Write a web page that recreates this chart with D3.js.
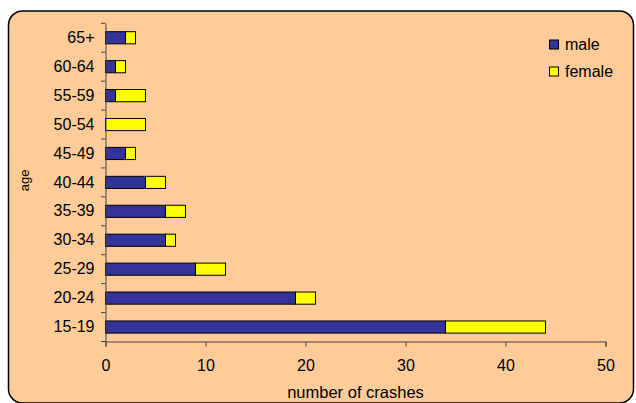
<!DOCTYPE html>
<html>
<head>
<meta charset="utf-8">
<script src="https://cdn.jsdelivr.net/npm/d3@7"></script>
<style>
  html, body { margin: 0; padding: 0; background: #ffffff; }
  svg { display: block; font-family: "Liberation Sans", Arial, sans-serif; }
</style>
</head>
<body>
<svg id="chart" width="636" height="403"></svg>
<script>
// Age groups, listed from bottom to top of the chart
const ageGroups = ["15-19", "20-24", "25-29", "30-34", "35-39", "40-44", "45-49", "50-54", "55-59", "60-64", "65+"];
const maleCrashes = [34, 19, 9, 6, 6, 4, 2, 0, 1, 1, 2];
const femaleCrashes = [10, 2, 3, 1, 2, 2, 1, 4, 3, 1, 1];
const seriesNames = ["male", "female"];
const seriesColors = ["#333399", "#FFFF00"];
const xTicks = [0, 10, 20, 30, 40, 50];

const svg = d3.select("#chart");

// Chart frame
svg.append("rect")
  .attr("x", 8.5).attr("y", 11)
  .attr("width", 625).attr("height", 392)
  .attr("rx", 14).attr("ry", 14)
  .attr("fill", "#FFCC99")
  .attr("stroke", "#000").attr("stroke-width", 1.5);

const plot = { left: 105.5, right: 605.5, top: 23.3, bottom: 341.5 };

const x = d3.scaleLinear().domain([0, 50]).range([plot.left, plot.right]);
const y = d3.scaleBand().domain(ageGroups).range([plot.bottom, plot.top]).paddingInner(0).paddingOuter(0);

// Stack male then female
const rows = ageGroups.map((g, i) => ({ group: g, male: maleCrashes[i], female: femaleCrashes[i] }));
const stacked = d3.stack().keys(seriesNames)(rows);

const barH = y.bandwidth() * 0.42;
const g = svg.append("g");
stacked.forEach((layer, si) => {
  g.selectAll(null).data(layer.filter(d => d[1] > d[0]))
    .join("rect")
    .attr("x", d => x(d[0]))
    .attr("width", d => x(d[1]) - x(d[0]))
    .attr("y", d => y(d.data.group) + (y.bandwidth() - barH) / 2)
    .attr("height", barH)
    .attr("fill", seriesColors[si])
    .attr("stroke", "#000").attr("stroke-width", 1);
});

// X axis
const xAxis = svg.append("g")
  .attr("transform", `translate(0,${plot.bottom})`)
  .call(d3.axisBottom(x).tickValues(xTicks).tickSize(5).tickPadding(13).tickFormat(d3.format("d")));
xAxis.select(".domain").attr("stroke", "#444");
xAxis.selectAll(".tick line").attr("stroke", "#444");
xAxis.selectAll(".tick text").attr("font-size", "16px").attr("fill", "#000")
  .attr("font-family", "Liberation Sans, Arial, sans-serif");

// Y axis: ticks sit on the category boundaries
const yAxis = svg.append("g")
  .attr("transform", `translate(${plot.left},0)`)
  .call(d3.axisLeft(y).tickSize(0).tickPadding(11));
yAxis.select(".domain").attr("stroke", "#444");
yAxis.selectAll(".tick text").attr("font-size", "16px").attr("fill", "#000")
  .attr("font-family", "Liberation Sans, Arial, sans-serif");
const boundaries = ageGroups.map(gp => y(gp)).concat([plot.bottom]);
yAxis.selectAll(".bound").data(boundaries).join("line")
  .attr("class", "bound")
  .attr("x1", -4.5).attr("x2", 0)
  .attr("y1", d => d).attr("y2", d => d)
  .attr("stroke", "#444");

// Axis titles
svg.append("text")
  .attr("x", (plot.left + plot.right) / 2).attr("y", 398)
  .attr("text-anchor", "middle").attr("font-size", "16.5px")
  .text("number of crashes");
svg.append("text")
  .attr("transform", `translate(29,${(plot.top + plot.bottom) / 2 - 2}) rotate(-90)`)
  .attr("text-anchor", "middle").attr("font-size", "13px")
  .text("age");

// Legend
const legend = svg.append("g");
seriesNames.forEach((name, i) => {
  const ly = 40 + i * 27;
  legend.append("rect")
    .attr("x", 549.5).attr("y", ly).attr("width", 9).attr("height", 9)
    .attr("fill", seriesColors[i]).attr("stroke", "#000").attr("stroke-width", 1);
  legend.append("text")
    .attr("x", 565).attr("y", ly + 9.5)
    .attr("font-size", "16px")
    .text(name);
});
</script>
</body>
</html>
